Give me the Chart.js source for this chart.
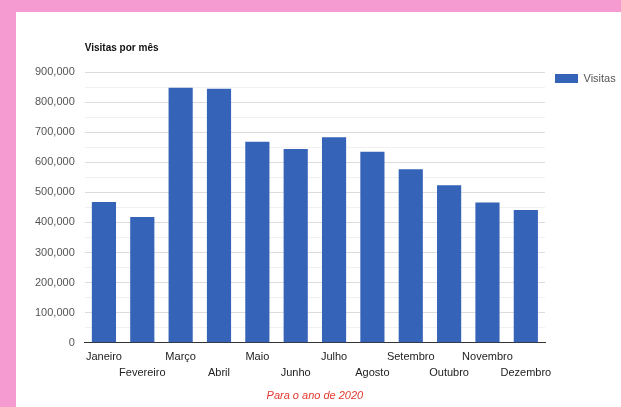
<!DOCTYPE html>
<html>
<head>
<meta charset="utf-8">
<script src="https://cdn.jsdelivr.net/npm/chart.js@4"></script>
<style>
  html, body { margin: 0; padding: 0; }
  body { width: 621px; height: 407px; background: #f69bd1; position: relative; overflow: hidden; }
  #panel { position: absolute; left: 16px; top: 12px; width: 605px; height: 395px; background: #ffffff; }
  canvas { display: block; }
</style>
</head>
<body>
<div id="panel"><canvas id="c" width="605" height="395"></canvas></div>
<script>
const categories = ['Janeiro', 'Fevereiro', 'Março', 'Abril', 'Maio', 'Junho', 'Julho', 'Agosto', 'Setembro', 'Outubro', 'Novembro', 'Dezembro'];
const visitas = [468000, 418000, 848000, 844000, 668000, 644000, 683000, 635000, 577000, 524000, 466000, 441000];
const yMin = 0;
const yMax = 900000;
const yStep = 50000;
const yLabelStep = 100000;
const chartTitle = 'Visitas por mês';
const seriesName = 'Visitas';
const footerText = 'Para o ano de 2020';

const FONT = 'Arial, "Liberation Sans", Helvetica, sans-serif';
const xLabels = categories.map((c, i) => (i % 2 ? ['', c] : [c]));

new Chart(document.getElementById('c'), {
  type: 'bar',
  data: {
    labels: xLabels,
    datasets: [{
      label: seriesName,
      data: visitas,
      backgroundColor: '#3563b8',
      borderWidth: 0,
      barPercentage: 0.63,
      categoryPercentage: 1.0
    }]
  },
  options: {
    responsive: false,
    animation: false,
    devicePixelRatio: 1,
    layout: { padding: { top: 51, left: 9, right: 0, bottom: 4.5 } },
    plugins: {
      title: {
        display: true,
        text: chartTitle,
        align: 'start',
        position: 'top',
        fullSize: false,
        color: '#111',
        font: { family: FONT, size: 10, weight: 'bold', lineHeight: 1.2 },
        padding: { top: -21, bottom: 18 }
      },
      subtitle: {
        display: true,
        text: footerText,
        position: 'bottom',
        fullSize: false,
        color: '#e2382f',
        font: { family: FONT, size: 11, style: 'italic', lineHeight: 1.2 },
        padding: { top: 2.5, bottom: 0 }
      },
      legend: {
        display: true,
        position: 'right',
        align: 'start',
        maxWidth: 76,
        labels: {
          boxWidth: 23,
          boxHeight: 9,
          padding: 10,
          color: '#555',
          font: { family: FONT, size: 11 }
        }
      },
      tooltip: { enabled: false }
    },
    scales: {
      x: {
        grid: { display: false, drawTicks: false },
        border: { display: true, color: '#333', width: 1 },
        ticks: {
          autoSkip: false,
          maxRotation: 0,
          minRotation: 0,
          padding: 6,
          color: '#222',
          font: { family: FONT, size: 11, lineHeight: '16px' }
        }
      },
      y: {
        min: yMin,
        max: yMax,
        border: { display: false },
        grid: {
          drawTicks: false,
          lineWidth: 1,
          color: (ctx) => (ctx.tick && ctx.tick.value % yLabelStep === 0 ? '#dcdcdc' : '#f0f0f0')
        },
        ticks: {
          stepSize: yStep,
          autoSkip: false,
          padding: 10,
          color: '#555',
          font: { family: FONT, size: 11 },
          callback: (v) => (v % yLabelStep === 0 ? v.toLocaleString('en-US') : '')
        }
      }
    }
  }
});
</script>
</body>
</html>
